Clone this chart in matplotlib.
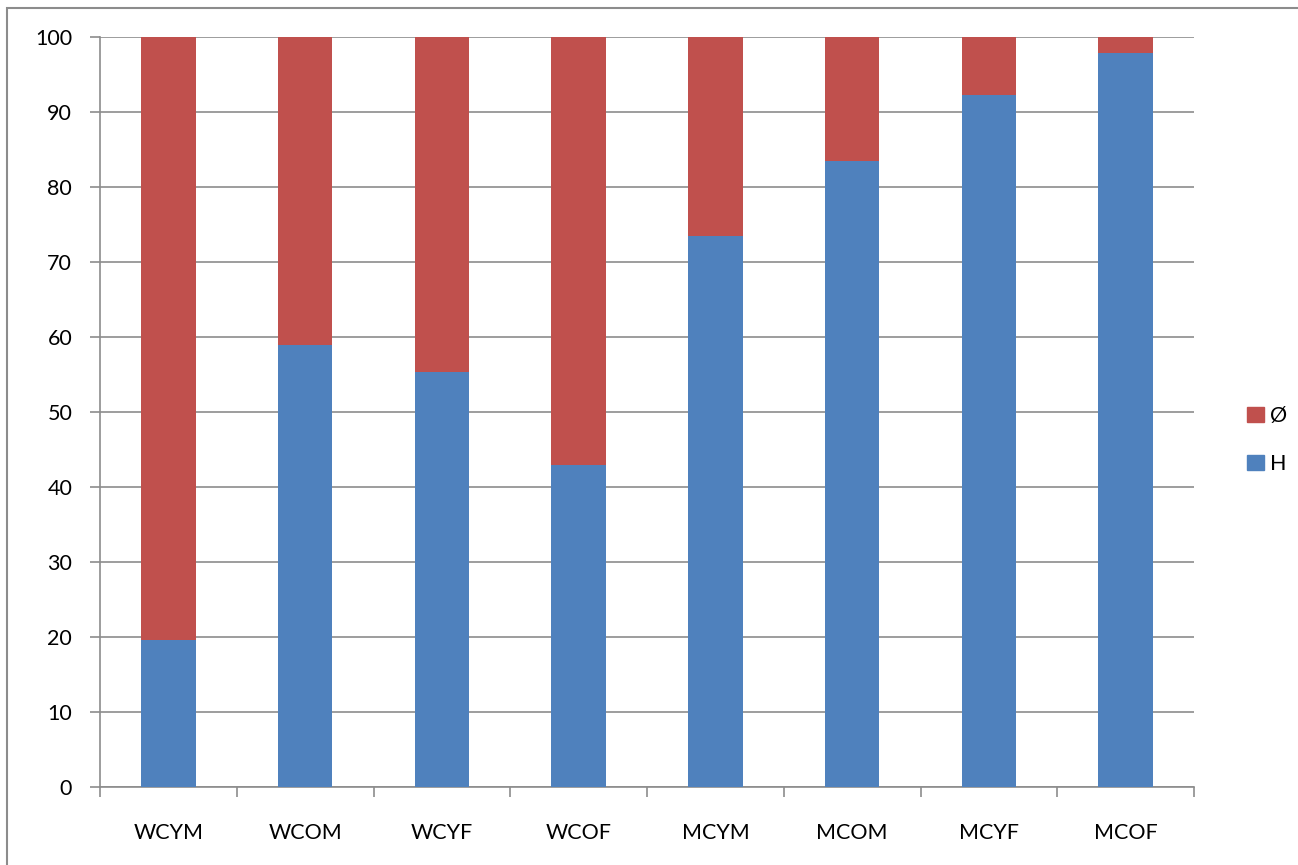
import matplotlib
matplotlib.use('Agg')
import matplotlib.pyplot as plt
from matplotlib.patches import Rectangle, Patch
import numpy as np

categories = ['WCYM', 'WCOM', 'WCYF', 'WCOF', 'MCYM', 'MCOM', 'MCYF', 'MCOF']
h_vals = [19.6, 58.9, 55.3, 42.9, 73.5, 83.5, 92.3, 97.9]
o_vals = [80.4, 41.1, 44.7, 57.1, 26.5, 16.5, 7.7, 2.1]
yticks = [0, 10, 20, 30, 40, 50, 60, 70, 80, 90, 100]

blue = '#4f81bd'
red = '#c0504d'
gray = '#8c8c8c'

plt.rcParams['font.family'] = ['Lato', 'DejaVu Sans']

fig = plt.figure(figsize=(12.98, 8.65), dpi=100)
ax = fig.add_axes([100/1298, 78/865, 1094/1298, 750/865])

x = np.arange(len(categories))
ax.bar(x, h_vals, width=0.4, color=blue, zorder=3)
ax.bar(x, o_vals, width=0.4, bottom=h_vals, color=red, zorder=3)

ax.set_xlim(-0.5, len(categories) - 0.5)
ax.set_ylim(0, 100)
ax.set_yticks(yticks)
ax.set_xticks(x)
ax.set_xticklabels(categories, fontsize=15.5)
ax.set_xticks(np.arange(-0.5, len(categories), 1), minor=True)
ax.tick_params(axis='x', which='major', length=0, pad=26)
ax.tick_params(axis='x', which='minor', length=7, color=gray, width=1.2)
ax.tick_params(axis='y', length=7, color=gray, width=1.2, labelsize=15.5, pad=13)
ax.yaxis.grid(True, color=gray, linewidth=1.2, zorder=0)
for s in ['top', 'right']:
    ax.spines[s].set_visible(False)
for s in ['left', 'bottom']:
    ax.spines[s].set_color(gray)
    ax.spines[s].set_linewidth(1.2)

handles = [Patch(color=red, label='Ø'), Patch(color=blue, label='H')]
fig.legend(handles=handles, loc='center left', bbox_to_anchor=(1228/1298, 1 - 440/865),
           frameon=False, fontsize=15.5, handlelength=0.75, handleheight=0.75,
           handletextpad=0.3, labelspacing=1.3)

fig.patches.append(Rectangle((7/1298, -0.05), 1.1, 0.05 + (1 - 8/865), transform=fig.transFigure,
                             fill=False, edgecolor=gray, linewidth=1.5))

fig.savefig('out.png', dpi=100)
